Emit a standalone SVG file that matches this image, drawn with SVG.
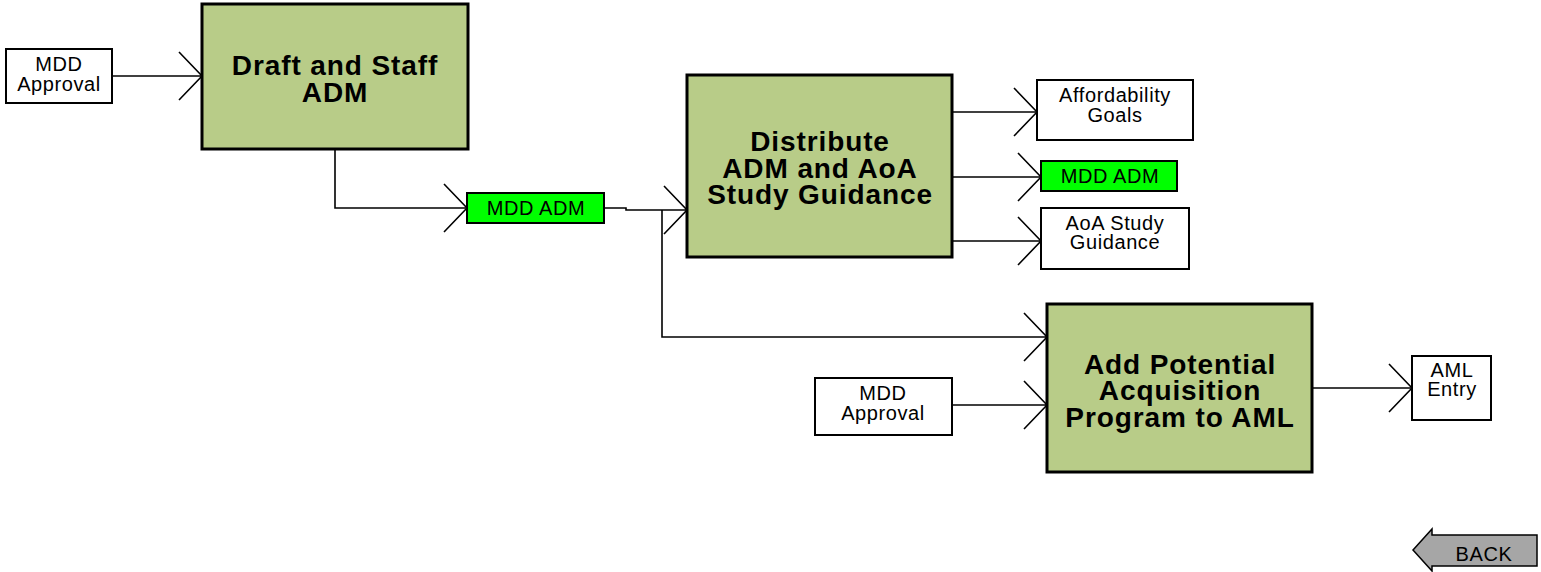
<svg xmlns="http://www.w3.org/2000/svg" width="1541" height="572" viewBox="0 0 1541 572">
<style>
.proc{fill:#B8CC88;stroke:#000;stroke-width:3}
.data{fill:#fff;stroke:#000;stroke-width:2}
.green{fill:#00FF00;stroke:#000;stroke-width:2}
.big{font-family:"Liberation Sans",Arial,sans-serif;font-weight:bold;font-size:28px;letter-spacing:0.9px;text-anchor:middle;fill:#000}
.sm{font-family:"Liberation Sans",Arial,sans-serif;font-size:20px;letter-spacing:0.6px;text-anchor:middle;fill:#000}
.ln{fill:none;stroke:#000;stroke-width:1.6}
</style>
<defs>
<marker id="chev" viewBox="-25 -25 27 50" refX="0" refY="0" markerWidth="27" markerHeight="50" markerUnits="userSpaceOnUse" orient="auto">
<path d="M-23,-24 L0,0 L-23,24" fill="none" stroke="#000" stroke-width="1.6"/>
</marker>
</defs>
<rect width="1541" height="572" fill="#fff"/>
<g id="connectors">
<path class="ln" d="M112,76 L202,76" marker-end="url(#chev)"/>
<path class="ln" d="M335,149 L335,208 L467,208" marker-end="url(#chev)"/>
<path class="ln" d="M604,208 L626,208 L626,210 L687,210" marker-end="url(#chev)"/>
<path class="ln" d="M662,210 L662,337 L1047,337" marker-end="url(#chev)"/>
<path class="ln" d="M952,112 L1037,112" marker-end="url(#chev)"/>
<path class="ln" d="M952,177 L1041,177" marker-end="url(#chev)"/>
<path class="ln" d="M952,241 L1041,241" marker-end="url(#chev)"/>
<path class="ln" d="M952,405 L1047,405" marker-end="url(#chev)"/>
<path class="ln" d="M1312,388 L1412,388" marker-end="url(#chev)"/>
</g>
<g id="mdd-approval-1">
<rect class="data" x="6" y="49" width="106" height="54"/>
<text class="sm" x="59" y="71">MDD</text>
<text class="sm" x="59" y="91">Approval</text>
</g>
<g id="draft-staff-adm">
<rect class="proc" x="202" y="4" width="266" height="145"/>
<text class="big" x="335" y="75">Draft and Staff</text>
<text class="big" x="335" y="102">ADM</text>
</g>
<g id="mdd-adm-1">
<rect class="green" x="467" y="193" width="137" height="30"/>
<text class="sm" x="536" y="215">MDD ADM</text>
</g>
<g id="distribute">
<rect class="proc" x="687" y="75" width="265" height="182"/>
<text class="big" x="820" y="151">Distribute</text>
<text class="big" x="820" y="178">ADM and AoA</text>
<text class="big" x="820" y="204">Study Guidance</text>
</g>
<g id="affordability-goals">
<rect class="data" x="1037" y="80" width="156" height="60"/>
<text class="sm" x="1115" y="102">Affordability</text>
<text class="sm" x="1115" y="122">Goals</text>
</g>
<g id="mdd-adm-2">
<rect class="green" x="1041" y="161" width="136" height="30"/>
<text class="sm" x="1110" y="183">MDD ADM</text>
</g>
<g id="aoa-study-guidance">
<rect class="data" x="1041" y="208" width="148" height="61"/>
<text class="sm" x="1115" y="230">AoA Study</text>
<text class="sm" x="1115" y="249">Guidance</text>
</g>
<g id="mdd-approval-2">
<rect class="data" x="815" y="378" width="137" height="57"/>
<text class="sm" x="883" y="400">MDD</text>
<text class="sm" x="883" y="420">Approval</text>
</g>
<g id="add-potential">
<rect class="proc" x="1047" y="304" width="265" height="168"/>
<text class="big" x="1180" y="374">Add Potential</text>
<text class="big" x="1180" y="400">Acquisition</text>
<text class="big" x="1180" y="427">Program to AML</text>
</g>
<g id="aml-entry">
<rect class="data" x="1412" y="356" width="79" height="64"/>
<text class="sm" x="1452" y="377">AML</text>
<text class="sm" x="1452" y="396">Entry</text>
</g>
<g id="back">
<path d="M1413,550 L1432,529 L1432,535 L1537,535 L1537,566 L1432,566 L1432,571 Z" fill="#A6A6A6" stroke="#000" stroke-width="1.5"/>
<text class="sm" x="1484" y="561">BACK</text>
</g>
</svg>
